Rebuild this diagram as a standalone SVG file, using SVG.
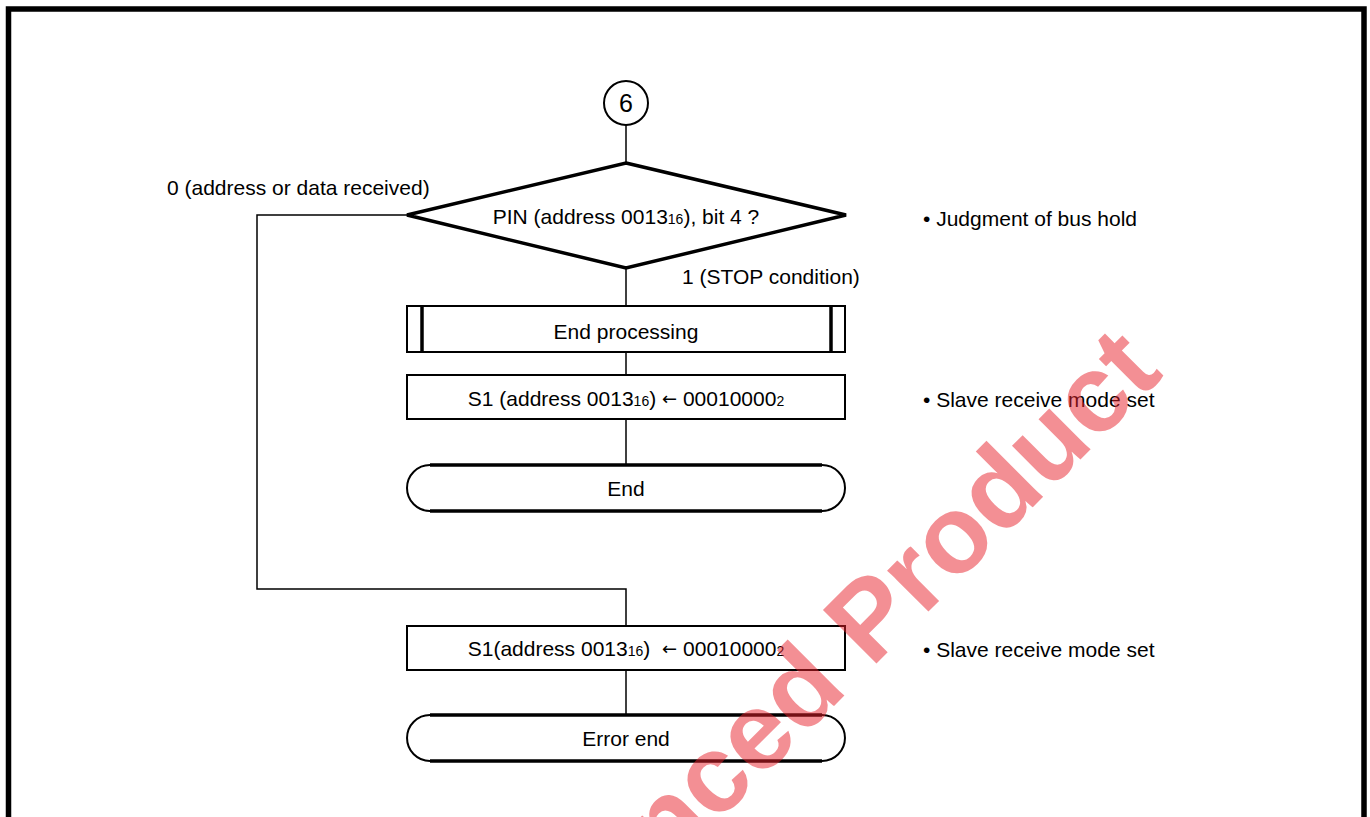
<svg xmlns="http://www.w3.org/2000/svg" width="1370" height="817" viewBox="0 0 1370 817">
<style>
text{font-family:"Liberation Sans",Arial,sans-serif;font-size:21px;fill:#000}
.c{text-anchor:middle}
.sub{font-size:14px}
.arr{font-family:"DejaVu Sans",sans-serif;font-size:18px}
.box{fill:#fff;stroke:#000;stroke-width:2}
.thick{fill:none;stroke:#000;stroke-width:3.5}
.thin{fill:none;stroke:#000;stroke-width:2}
.conn{fill:none;stroke:#000;stroke-width:1.5}
.wm{font-family:"Liberation Sans",Arial,sans-serif;font-weight:bold;font-size:110px;fill:#e8202a;fill-opacity:0.5}
</style>
<rect x="0" y="0" width="1370" height="817" fill="#fff"/>
<rect x="8.5" y="9" width="1355.5" height="900" fill="none" stroke="#000" stroke-width="5.5"/>

<g id="connectors">
<line class="conn" x1="626" y1="125" x2="626" y2="163"/>
<line class="conn" x1="626" y1="268" x2="626" y2="306"/>
<line class="conn" x1="626" y1="352" x2="626" y2="375"/>
<line class="conn" x1="626" y1="419" x2="626" y2="465"/>
<polyline class="conn" points="407,215 257,215 257,589 626,589 626,626"/>
<line class="conn" x1="626" y1="670" x2="626" y2="715"/>
<text x="167" y="195">0 (address or data received)</text>
<text x="682" y="284">1 (STOP condition)</text>
</g>

<g id="n-start">
<circle cx="626" cy="103" r="22" fill="#fff" stroke="#000" stroke-width="2"/>
<text class="c" x="626" y="112" style="font-size:25px">6</text>
</g>

<g id="n-decision">
<polygon points="626,163 846,215 626,268 407,215" fill="#fff" stroke="#000" stroke-width="3.5"/>
<text class="c" x="626" y="224">PIN (address 0013<tspan class="sub">16</tspan>), bit 4 ?</text>
<text x="923" y="226">• Judgment of bus hold</text>
</g>

<g id="n-endproc">
<rect class="box" x="407" y="306" width="438" height="46"/>
<line class="thick" x1="422" y1="306" x2="422" y2="352"/>
<line class="thick" x1="831" y1="306" x2="831" y2="352"/>
<text class="c" x="626" y="339">End processing</text>
</g>

<g id="n-s1a">
<rect class="box" x="407" y="375" width="438" height="44"/>
<text class="c" x="626" y="406">S1 (address 0013<tspan class="sub">16</tspan>) <tspan class="arr" dy="-1">←</tspan><tspan dy="1"> 00010000</tspan><tspan class="sub">2</tspan></text>
<text x="923" y="407">• Slave receive mode set</text>
</g>

<g id="n-end">
<path d="M430,465 H822 A23,23 0 0 1 822,511 H430 A23,23 0 0 1 430,465 Z" fill="#fff" stroke="none"/>
<path class="thick" d="M430,465 H822 M822,511 H430"/>
<path class="thin" d="M822,465 A23,23 0 0 1 822,511 M430,511 A23,23 0 0 1 430,465"/>
<text class="c" x="626" y="496">End</text>
</g>

<g id="n-s1b">
<rect class="box" x="407" y="626" width="438" height="44"/>
<text class="c" x="626" y="656">S1(address 0013<tspan class="sub">16</tspan>) <tspan class="arr" dx="6" dy="-1">←</tspan><tspan dy="1"> 00010000</tspan><tspan class="sub">2</tspan></text>
<text x="923" y="657">• Slave receive mode set</text>
</g>

<g id="n-errend">
<path d="M430,715 H822 A23,23 0 0 1 822,761 H430 A23,23 0 0 1 430,715 Z" fill="#fff" stroke="none"/>
<path class="thick" d="M430,715 H822 M822,761 H430"/>
<path class="thin" d="M822,715 A23,23 0 0 1 822,761 M430,761 A23,23 0 0 1 430,715"/>
<text class="c" x="626" y="746">Error end</text>
</g>

<text class="wm" transform="translate(668,872) rotate(-45)">nced Product</text>
</svg>
